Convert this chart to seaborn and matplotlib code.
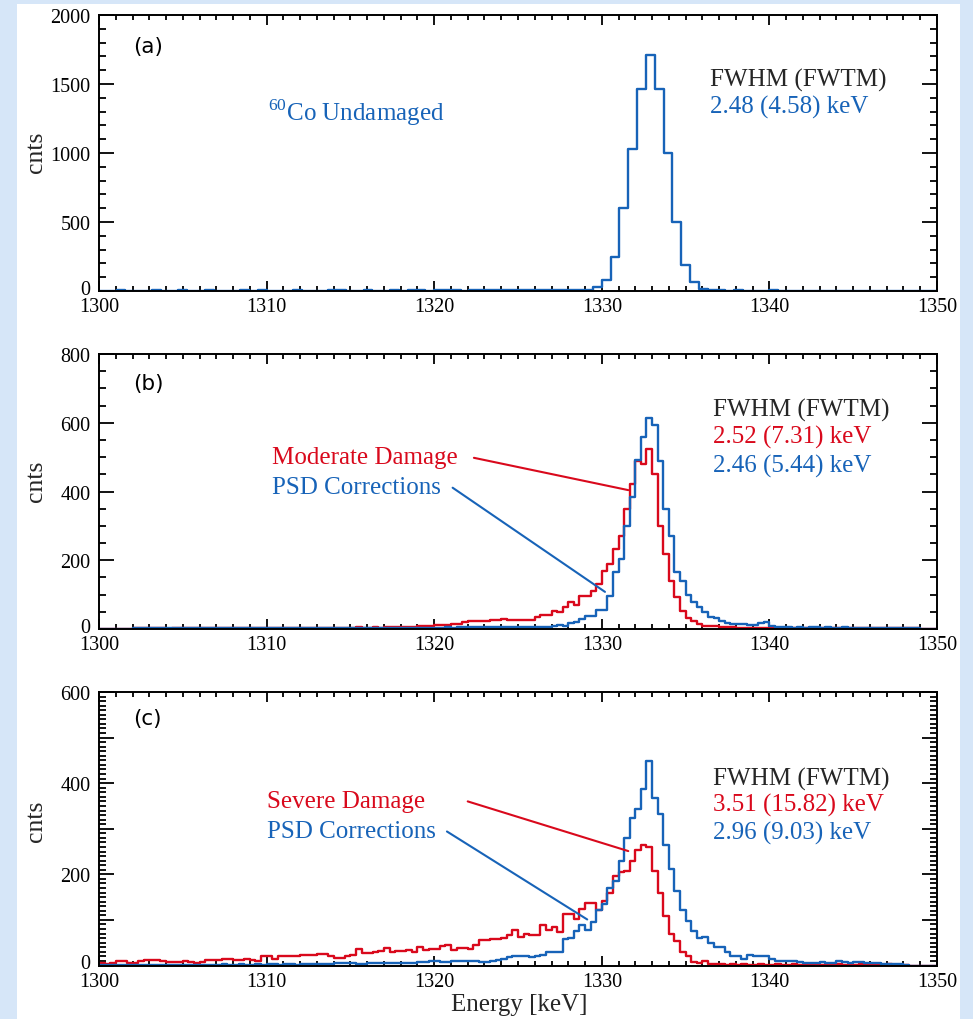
import numpy as np
import pandas as pd
import matplotlib
matplotlib.use("Agg")
import matplotlib.pyplot as plt
import seaborn as sns
from matplotlib.ticker import MultipleLocator, FuncFormatter
from matplotlib.patches import Rectangle
from matplotlib.transforms import ScaledTranslation

# ---------------- data ----------------
E_MIN, E_MAX = 1300, 1350
N_BINS_A = 95
N_BINS_BC = 150

undamaged_a = [
    3, 2, 4, 3, 2, 3, 4, 2, 3, 5,
    3, 2, 4, 3, 3, 2, 4, 3, 5, 3,
    2, 3, 4, 3, 3, 2, 4, 5, 3, 3,
    4, 3, 2, 4, 3, 5, 4, 3, 4, 5,
    4, 3, 5, 4, 4, 5, 6, 4, 5, 6,
    5, 6, 7, 6, 8, 10, 29, 82, 246, 604,
    1031, 1466, 1708, 1461, 1000, 500, 186, 65, 12, 5,
    4, 3, 4, 3, 2, 3, 4, 3, 2, 3,
    3, 2, 3, 2, 3, 2, 2, 3, 2, 2,
    3, 2, 2, 3, 2,
]

moderate_b = [
    0, 0, 0, 0, 0, 0, 2, 3, 2, 2,
    3, 2, 1, 2, 3, 2, 2, 3, 2, 2,
    3, 3, 2, 2, 3, 2, 2, 3, 3, 2,
    2, 3, 2, 2, 3, 3, 2, 3, 3, 2,
    3, 3, 4, 4, 3, 4, 5, 4, 4, 5,
    4, 5, 6, 7, 7, 6, 7, 8, 8, 9,
    12, 12, 13, 15, 15, 21, 23, 22, 22, 22,
    25, 25, 28, 25, 25, 26, 27, 25, 34, 41,
    41, 53, 50, 63, 78, 70, 97, 97, 111, 131,
    170, 189, 233, 271, 349, 421, 489, 480, 523, 450,
    300, 218, 140, 92, 52, 33, 22, 15, 10, 8,
    9, 6, 7, 5, 4, 4, 3, 4, 3, 4,
    3, 3, 4, 3, 2, 3, 3, 2, 3, 2,
    3, 2, 2, 3, 2, 2, 3, 2, 2, 2,
    3, 2, 2, 2, 3, 2, 2, 0, 0, 0,
]

psd_b = [
    0, 0, 0, 0, 0, 0, 2, 3, 2, 3,
    2, 2, 3, 2, 3, 2, 3, 3, 2, 2,
    3, 2, 3, 2, 2, 3, 3, 2, 3, 2,
    3, 3, 2, 3, 2, 3, 3, 2, 3, 3,
    2, 3, 3, 2, 3, 3, 3, 2, 3, 3,
    3, 3, 4, 3, 3, 4, 3, 4, 4, 3,
    4, 4, 5, 4, 5, 5, 5, 6, 5, 5,
    5, 6, 5, 6, 6, 5, 6, 6, 7, 6,
    7, 8, 12, 10, 17, 21, 29, 37, 37, 56,
    56, 97, 165, 203, 300, 383, 491, 560, 615, 593,
    489, 349, 271, 165, 140, 100, 80, 65, 50, 35,
    33, 24, 18, 16, 15, 14, 12, 12, 18, 20,
    8, 6, 5, 6, 4, 5, 4, 5, 6, 4,
    5, 4, 4, 5, 3, 4, 4, 3, 4, 3,
    4, 3, 3, 2, 3, 3, 2, 0, 0, 0,
]

severe_c = [
    5, 4, 6, 9, 9, 5, 6, 10, 11, 12,
    11, 10, 7, 7, 8, 9, 8, 5, 8, 11,
    11, 12, 14, 15, 13, 12, 15, 13, 10, 21,
    20, 14, 21, 21, 20, 21, 22, 22, 24, 25,
    25, 20, 17, 16, 20, 22, 37, 28, 27, 30,
    31, 38, 29, 31, 32, 35, 29, 40, 35, 37,
    37, 42, 44, 35, 38, 38, 37, 46, 56, 56,
    59, 59, 60, 67, 77, 62, 69, 66, 66, 88,
    77, 84, 73, 114, 112, 103, 124, 138, 138, 121,
    141, 160, 197, 206, 208, 230, 253, 265, 260, 208,
    158, 108, 69, 54, 30, 20, 8, 6, 10, 4,
    3, 3, 2, 3, 2, 3, 2, 2, 3, 2,
    2, 3, 2, 2, 3, 2, 2, 2, 3, 2,
    2, 2, 3, 2, 2, 2, 3, 2, 2, 2,
    2, 3, 2, 2, 2, 0, 0, 0, 0, 0,
]

psd_c = [
    2, 1, 2, 2, 1, 2, 2, 1, 2, 2,
    2, 2, 1, 2, 2, 2, 1, 2, 2, 2,
    2, 2, 3, 2, 2, 3, 2, 2, 3, 2,
    3, 3, 2, 3, 3, 2, 3, 3, 3, 4,
    3, 4, 5, 5, 6, 5, 4, 4, 5, 5,
    5, 6, 5, 6, 6, 5, 6, 7, 7, 9,
    9, 8, 8, 9, 10, 10, 10, 9, 8, 8,
    10, 12, 14, 18, 20, 21, 21, 18, 21, 23,
    30, 30, 29, 59, 60, 75, 89, 77, 95, 121,
    136, 169, 186, 230, 279, 323, 344, 388, 448, 367,
    332, 265, 212, 164, 121, 97, 75, 60, 62, 49,
    40, 40, 30, 20, 20, 15, 24, 20, 20, 20,
    15, 10, 10, 10, 10, 8, 6, 5, 5, 8,
    6, 5, 10, 8, 6, 8, 7, 6, 5, 6,
    3, 3, 3, 3, 2, 0, 0, 0, 0, 0,
]

fwhm_a = ["2.48 (4.58) keV"]
fwhm_b = ["2.52 (7.31) keV", "2.46 (5.44) keV"]
fwhm_c = ["3.51 (15.82) keV", "2.96 (9.03) keV"]

# ---------------- style ----------------
BLUE = "#1763b8"
RED = "#d9091c"
sns.set_style("ticks")
plt.rcParams["font.family"] = ["Liberation Serif", "DejaVu Serif"]
plt.rcParams["mathtext.fontset"] = "custom"
plt.rcParams["mathtext.rm"] = "Liberation Serif"
plt.rcParams["axes.linewidth"] = 1.4

W, H = 973, 1020
fig = plt.figure(figsize=(W / 100, H / 100), dpi=100, facecolor="#d6e6f8")
fig.patches.append(Rectangle((17 / W, 0), 943 / W, 1015 / H, transform=fig.transFigure,
                             facecolor="white", edgecolor="none", zorder=-10))


def px_axes(top, bottom):
    return fig.add_axes([99 / W, 1 - bottom / H, 838 / W, (bottom - top) / H])


ax_a = px_axes(16, 292)
ax_b = px_axes(355, 630)
ax_c = px_axes(693, 966.5)
axes = [ax_a, ax_b, ax_c]


def hist(ax, counts, nbins, color):
    edges = np.linspace(E_MIN, E_MAX, nbins + 1)
    df = pd.DataFrame({"energy": 0.5 * (edges[:-1] + edges[1:]),
                       "cnts": np.asarray(counts, dtype=float)})
    sns.histplot(data=df, x="energy", weights="cnts", bins=list(edges), element="step",
                 fill=False, color=color, linewidth=1.7, ax=ax)


hist(ax_a, undamaged_a, N_BINS_A, BLUE)
hist(ax_b, moderate_b, N_BINS_BC, RED)
hist(ax_b, psd_b, N_BINS_BC, BLUE)
hist(ax_c, severe_c, N_BINS_BC, RED)
hist(ax_c, psd_c, N_BINS_BC, BLUE)

ylims = [(0, 2000), (0, 800), (0, 600)]
ymaj = [500, 200, 100]
ymin = [100, 50, 10]
ylab_every = [500, 200, 200]
ylab_y = [0.507, 0.54, 0.53]
for ax, yl, mj, mn, le, ly in zip(axes, ylims, ymaj, ymin, ylab_every, ylab_y):
    ax.set_xlim(E_MIN, E_MAX)
    ax.set_ylim(*yl)
    ax.xaxis.set_major_locator(MultipleLocator(10))
    ax.xaxis.set_minor_locator(MultipleLocator(1))
    ax.yaxis.set_major_locator(MultipleLocator(mj))
    ax.yaxis.set_minor_locator(MultipleLocator(mn))
    ax.yaxis.set_major_formatter(FuncFormatter(lambda v, p, le=le: f"{int(round(v))}" if round(v) % le == 0 else ""))
    ax.xaxis.set_major_formatter(FuncFormatter(lambda v, p: f"{int(round(v))}"))
    ax.tick_params(which="both", direction="in", top=True, right=True, width=1.3, labelsize=14.5, colors="black")
    ax.tick_params(axis="x", which="major", length=7, pad=4.5)
    ax.tick_params(axis="x", which="minor", length=3.5)
    ax.tick_params(axis="y", which="major", length=11, pad=6)
    ax.tick_params(axis="y", which="minor", length=5)
    ax.set_ylabel("cnts", fontsize=18.5)
    ax.yaxis.set_label_coords(-0.062, ly)
    ax.set_xlabel("")
    for s in ax.spines.values():
        s.set_visible(True)
        s.set_color("black")

ax_c.set_xlabel("Energy [keV]", fontsize=18)
ax_c.xaxis.set_label_coords(0.502, -0.101)

# panel letters
for ax, lab, y in [(ax_a, "(a)", 0.888), (ax_b, "(b)", 0.895), (ax_c, "(c)", 0.905)]:
    ax.text(0.041, y, lab, transform=ax.transAxes, fontsize=15.5, family="DejaVu Sans",
            va="center", ha="left", color="black")

# panel a texts
ax_a.text(0.2017, 0.649, r"$^{60}$Co Undamaged", transform=ax_a.transAxes, fontsize=18,
          color=BLUE, va="center", ha="left")
ax_a.text(0.729, 0.768, "FWHM (FWTM)", transform=ax_a.transAxes, fontsize=18, va="center")
ax_a.text(0.729, 0.667, fwhm_a[0], transform=ax_a.transAxes, fontsize=18, va="center", color=BLUE)

# panel b texts
ax_b.text(0.733, 0.80, "FWHM (FWTM)", transform=ax_b.transAxes, fontsize=18, va="center")
ax_b.text(0.733, 0.70, fwhm_b[0], transform=ax_b.transAxes, fontsize=18, va="center", color=RED)
ax_b.text(0.733, 0.596, fwhm_b[1], transform=ax_b.transAxes, fontsize=18, va="center", color=BLUE)
ax_b.text(1310.3, 499, "Moderate Damage", fontsize=18, va="center", color=RED)
ax_b.text(1310.3, 414, "PSD Corrections", fontsize=18, va="center", color=BLUE)
ax_b.annotate("", xy=(1331.58, 404), xytext=(1322.37, 498),
              arrowprops=dict(arrowstyle="-", color=RED, lw=1.5, shrinkA=0, shrinkB=0))
ax_b.annotate("", xy=(1330.19, 108), xytext=(1321.1, 411),
              arrowprops=dict(arrowstyle="-", color=BLUE, lw=1.5, shrinkA=0, shrinkB=0))

# panel c texts
ax_c.text(0.733, 0.684, "FWHM (FWTM)", transform=ax_c.transAxes, fontsize=18, va="center")
ax_c.text(0.733, 0.589, fwhm_c[0], transform=ax_c.transAxes, fontsize=18, va="center", color=RED)
ax_c.text(0.733, 0.486, fwhm_c[1], transform=ax_c.transAxes, fontsize=18, va="center", color=BLUE)
ax_c.text(1310.0, 360, "Severe Damage", fontsize=18, va="center", color=RED)
ax_c.text(1310.0, 296, "PSD Corrections", fontsize=18, va="center", color=BLUE)
ax_c.annotate("", xy=(1331.58, 251), xytext=(1322.0, 360),
              arrowprops=dict(arrowstyle="-", color=RED, lw=1.5, shrinkA=0, shrinkB=0))
ax_c.annotate("", xy=(1329.13, 101), xytext=(1320.76, 294),
              arrowprops=dict(arrowstyle="-", color=BLUE, lw=1.5, shrinkA=0, shrinkB=0))

# lift the "0" y tick labels a little above the baseline, as in the reference
fig.canvas.draw()
lift = ScaledTranslation(0, 4 / 100, fig.dpi_scale_trans)
for ax in axes:
    for t in ax.yaxis.get_major_ticks():
        if abs(t.get_loc()) < 1e-9:
            t.label1.set_transform(t.label1.get_transform() + lift)

fig.savefig("out.png", dpi=100, facecolor=fig.get_facecolor())
